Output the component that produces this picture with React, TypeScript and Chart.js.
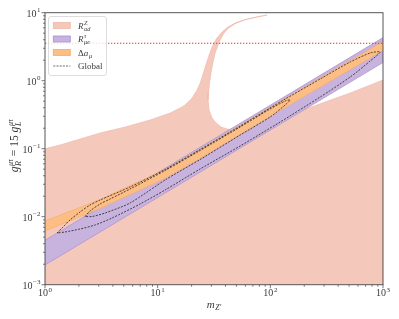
import React, { useEffect, useRef } from 'react';
import { Chart, registerables } from 'chart.js';
Chart.register(...registerables);

// ---- axis ranges & ticks ----
const xMin = 1, xMax = 1000, yMin = 1e-3, yMax = 10;
const xTickValues = [1, 10, 100, 1000];
const xTickExps = ['0', '1', '2', '3'];
const yTickValues = [1e-3, 1e-2, 1e-1, 1, 10];
const yTickExps = ['\u22123', '\u22122', '\u22121', '0', '1'];

// ---- R^Z_ad allowed region (closed outline) ----
const pinkX = [1, 1, 1.359, 2.046, 3.079, 5.135, 8.561, 12.89, 15.81, 17.51, 20.21, 22.38, 23.81, 25.31, 26.91, 28.61, 30.42, 33.02, 36.58, 41.34, 48.69, 59.73, 74.80, 93.67,
  74.80, 59.73, 48.69, 42.20, 38.88, 36.58, 34.39, 32.35, 31.05, 29.81, 28.90, 28.31, 28.03, 28.61, 30.42, 33.02, 36.58, 41.34, 48.69, 57.33, 66.16, 183.9, 511.3, 1000, 1000];
const pinkY = [1e-3, 0.1, 0.1133, 0.1389, 0.1702, 0.2085, 0.2643, 0.3350, 0.3968, 0.4391, 0.5567, 0.7297, 0.9252, 1.254, 1.760, 2.387, 3.130, 4.104, 5.029, 6.060, 7.056, 7.943, 8.647, 9.252,
  8.550, 7.860, 6.900, 5.838, 5.029, 4.245, 3.350, 2.555, 1.884, 1.342, 0.9252, 0.6821, 0.5202, 0.3707, 0.2828, 0.2387, 0.2085, 0.1949, 0.1884, 0.1916, 0.2016, 0.3584, 0.6594, 1.024, 1e-3];

// ---- R^tau_mue band ----
const purpleX = [1, 1000, 1000, 1];
const purpleY = [1.95e-3, 1.85, 4.3, 4.5e-3];

// ---- Delta a_mu band ----
const orangeX = [1, 1.667, 3.079, 11.63, 23.81, 122.2, 1000, 1000, 122.2, 23.81, 11.63, 3.079, 1.667, 1];
const orangeY = [6.163e-3, 8.735e-3, 1.320e-2, 3.646e-2, 7.177e-2, 0.3646, 2.781, 3.772, 0.4944, 9.732e-2, 4.944e-2, 1.790e-2, 1.2006e-2, 8.647e-3];

// ---- Global fit contours ----
const outerX = [1.278, 1.416, 1.667, 2.046, 2.509, 3.079, 5.687, 11.63, 23.81, 53.93, 122.2, 276.9, 511.3, 769.6, 944.3, 769.6, 511.3, 276.9, 122.2, 53.93, 23.81, 11.63, 6.979, 3.936, 2.780, 2.046, 1.505, 1.278];
const outerY = [5.757e-3, 6.821e-3, 8.944e-3, 1.1724e-2, 1.486e-2, 1.760e-2, 2.734e-2, 4.944e-2, 9.732e-2, 0.2157, 0.4861, 1.059, 1.884, 2.555, 2.643, 1.949, 1.133, 0.5759, 0.2469, 0.1096, 5.029e-2, 2.470e-2, 1.5373e-2, 9.570e-3, 7.548e-3, 6.594e-3, 5.957e-3, 5.757e-3];
const innerX = [2.266, 2.509, 3.079, 3.779, 5.687, 11.63, 23.81, 53.93, 99.6, 135.3, 149.9, 135.3, 99.6, 53.93, 23.81, 11.63, 5.687, 3.411, 2.615, 2.266];
const innerY = [1.0067e-2, 1.2128e-2, 1.5373e-2, 1.821e-2, 2.555e-2, 4.779e-2, 9.408e-2, 0.2085, 0.3836, 0.5029, 0.5202, 0.4391, 0.2925, 0.1590, 6.938e-2, 3.465e-2, 1.5903e-2, 1.1334e-2, 1.0067e-2, 1.0067e-2];

// ---- horizontal limit ----
const limitX = [1, 1000];
const limitY = [3.55, 3.55];

const PINK = '#f4c9bc';
const PINK_EDGE = '#efb6a5';
const PURPLE = '#c8b3de';
const PURPLE_EDGE = '#a990cc';
const ORANGE = '#fdbe86';
const ORANGE_EDGE = '#f8aa66';
const TEXT = '#3a3a3a';
const AXIS = '#555555';
const FONT = '"Liberation Serif", "DejaVu Serif", serif';

type Seg = { t?: string; it?: boolean; sup?: string; sub?: string; sit?: boolean };

const fnt = (size: number, it: boolean) => `${it ? 'italic ' : ''}${size}px ${FONT}`;

function measureRich(ctx: CanvasRenderingContext2D, segs: Seg[], size: number) {
  let w = 0;
  for (const s of segs) {
    if (s.t) { ctx.font = fnt(size, !!s.it); w += ctx.measureText(s.t).width; }
    if (s.sup || s.sub) {
      const ss = size * 0.7;
      let a = 0, b = 0;
      ctx.font = fnt(ss, !!s.sit);
      if (s.sup) a = ctx.measureText(s.sup).width;
      if (s.sub) b = ctx.measureText(s.sub).width;
      w += Math.max(a, b) + 0.6;
    }
  }
  return w;
}

function drawRich(ctx: CanvasRenderingContext2D, segs: Seg[], x: number, y: number, size: number, align: 'left' | 'center' | 'right', supRaise = 0.42) {
  const w = measureRich(ctx, segs, size);
  let cx = align === 'left' ? x : align === 'center' ? x - w / 2 : x - w;
  ctx.textAlign = 'left';
  ctx.textBaseline = 'alphabetic';
  ctx.fillStyle = TEXT;
  for (const s of segs) {
    if (s.t) {
      ctx.font = fnt(size, !!s.it);
      ctx.fillText(s.t, cx, y);
      cx += ctx.measureText(s.t).width;
    }
    if (s.sup || s.sub) {
      const ss = size * 0.7;
      let a = 0, b = 0;
      ctx.font = fnt(ss, !!s.sit);
      if (s.sup) { ctx.fillText(s.sup, cx + 0.6, y - size * supRaise); a = ctx.measureText(s.sup).width; }
      if (s.sub) { ctx.fillText(s.sub, cx + 0.6, y + size * 0.24); b = ctx.measureText(s.sub).width; }
      cx += Math.max(a, b) + 0.6;
    }
  }
}

const pts = (xs: number[], ys: number[]) => xs.map((x, i) => ({ x, y: ys[i] }));

const decorPlugin = {
  id: 'decor',
  afterDraw(chart: any) {
    const ctx: CanvasRenderingContext2D = chart.ctx;
    const { left, right, top, bottom } = chart.chartArea;
    const xs = chart.scales.x;
    const ys = chart.scales.y;
    ctx.save();
    // frame
    ctx.strokeStyle = AXIS;
    ctx.lineWidth = 1;
    ctx.strokeRect(left, top, right - left, bottom - top);
    // ticks
    ctx.lineWidth = 0.8;
    ctx.beginPath();
    for (let d = xMin; d < xMax * 1.01; d *= 10) {
      for (let m = 1; m <= 9; m++) {
        const v = d * m;
        if (v > xMax * 1.0001) break;
        const px = xs.getPixelForValue(v);
        const len = m === 1 ? 3.5 : 2;
        ctx.moveTo(px, bottom);
        ctx.lineTo(px, bottom + len);
      }
    }
    for (let d = yMin; d < yMax * 1.01; d *= 10) {
      for (let m = 1; m <= 9; m++) {
        const v = d * m;
        if (v > yMax * 1.0001) break;
        const py = ys.getPixelForValue(v);
        const len = m === 1 ? 3.5 : 2;
        ctx.moveTo(left, py);
        ctx.lineTo(left - len, py);
      }
    }
    ctx.stroke();
    // tick labels
    xTickValues.forEach((v, i) => {
      drawRich(ctx, [{ t: '10', sup: xTickExps[i] }], xs.getPixelForValue(v), bottom + 11.3, 10, 'center', 0.45);
    });
    yTickValues.forEach((v, i) => {
      drawRich(ctx, [{ t: '10', sup: yTickExps[i] }], left - 4.5, ys.getPixelForValue(v) + 4, 10, 'right', 0.45);
    });
    // x title
    drawRich(ctx, [{ t: 'm', it: true, sub: 'Z\u2032', sit: true }], (left + right) / 2, 307.5, 11, 'center');
    // y title (rotated)
    ctx.save();
    ctx.translate(18, (top + bottom) / 2 - 3);
    ctx.rotate(-Math.PI / 2);
    drawRich(ctx, [
      { t: 'g', it: true, sup: '\u03bc\u03c4', sub: 'R', sit: true },
      { t: ' = 15 ' },
      { t: 'g', it: true, sup: '\u03bc\u03c4', sub: 'L', sit: true },
    ], 0, 0, 11.5, 'center');
    ctx.restore();

    // legend
    const bx = 48.5, by = 16.5, bw = 58, bh = 59;
    ctx.beginPath();
    (ctx as any).roundRect(bx, by, bw, bh, 2.5);
    ctx.fillStyle = 'rgba(255,255,255,0.8)';
    ctx.fill();
    ctx.strokeStyle = '#d4d4d4';
    ctx.lineWidth = 0.8;
    ctx.stroke();
    const rows = [25.5, 39, 52.5, 66];
    const hx = 53.3, hw = 17, hh = 6;
    const patches = [[PINK, PINK_EDGE], [PURPLE, PURPLE_EDGE], [ORANGE, ORANGE_EDGE]];
    patches.forEach(([f, e], i) => {
      ctx.fillStyle = f;
      ctx.fillRect(hx, rows[i] - hh / 2, hw, hh);
      ctx.strokeStyle = e;
      ctx.lineWidth = 0.8;
      ctx.strokeRect(hx, rows[i] - hh / 2, hw, hh);
    });
    ctx.beginPath();
    ctx.setLineDash([2, 1.2]);
    ctx.strokeStyle = '#444';
    ctx.lineWidth = 0.8;
    ctx.moveTo(hx, rows[3]);
    ctx.lineTo(hx + hw, rows[3]);
    ctx.stroke();
    ctx.setLineDash([]);
    const tx = 78;
    drawRich(ctx, [{ t: 'R', it: true, sup: 'Z', sub: 'ad', sit: true }], tx, rows[0] + 3, 9, 'left');
    drawRich(ctx, [{ t: 'R', it: true, sup: '\u03c4', sub: '\u03bce', sit: true }], tx, rows[1] + 3, 9, 'left');
    drawRich(ctx, [{ t: '\u0394' }, { t: 'a', it: true, sub: '\u03bc', sit: true }], tx, rows[2] + 3, 9, 'left');
    drawRich(ctx, [{ t: 'Global' }], tx, rows[3] + 3, 9, 'left');
    ctx.restore();
  },
};

export default function App() {
  const ref = useRef<HTMLCanvasElement | null>(null);
  useEffect(() => {
    if (!ref.current) return;
    const common = { pointRadius: 0, pointHoverRadius: 0, clip: 0 as any };
    const chart = new Chart(ref.current, {
      type: 'line',
      data: {
        datasets: [
          { ...common, data: pts(limitX, limitY), borderColor: '#f02828', borderWidth: 1.1, borderDash: [1.3, 1.7], fill: false, order: 0 },
          { ...common, data: pts(innerX, innerY), borderColor: '#222', borderWidth: 0.8, borderDash: [2, 1.3], fill: false, tension: 0.25, order: 1 },
          { ...common, data: pts(outerX, outerY), borderColor: '#222', borderWidth: 0.8, borderDash: [2, 1.3], fill: false, tension: 0.25, order: 2 },
          { ...common, data: pts(orangeX, orangeY), borderColor: ORANGE_EDGE, backgroundColor: ORANGE, borderWidth: 0.6, fill: 'shape', order: 3 },
          { ...common, data: pts(purpleX, purpleY), borderColor: PURPLE_EDGE, backgroundColor: PURPLE, borderWidth: 0.7, fill: 'shape', order: 4 },
          { ...common, data: pts(pinkX, pinkY), borderColor: PINK_EDGE, backgroundColor: PINK, borderWidth: 0.6, fill: 'shape', order: 5 },
        ] as any,
      },
      options: {
        animation: false,
        responsive: false,
        devicePixelRatio: 1,
        events: [],
        layout: { padding: { left: 0, right: 16, top: 12.7, bottom: 0 } },
        plugins: { legend: { display: false }, tooltip: { enabled: false } },
        scales: {
          x: {
            type: 'logarithmic', min: xMin, max: xMax,
            ticks: { display: false }, grid: { display: false }, border: { display: false },
            afterFit: (s: any) => { s.height = 34.3; },
          },
          y: {
            type: 'logarithmic', min: yMin, max: yMax,
            ticks: { display: false }, grid: { display: false }, border: { display: false },
            afterFit: (s: any) => { s.width = 45; },
          },
        },
      } as any,
      plugins: [decorPlugin],
    });
    return () => chart.destroy();
  }, []);
  return (
    <div style={{ position: 'fixed', left: 0, top: 0, width: 399, height: 319, background: '#fff' }}>
      <canvas ref={ref} width={399} height={319} style={{ display: 'block' }} />
    </div>
  );
}
